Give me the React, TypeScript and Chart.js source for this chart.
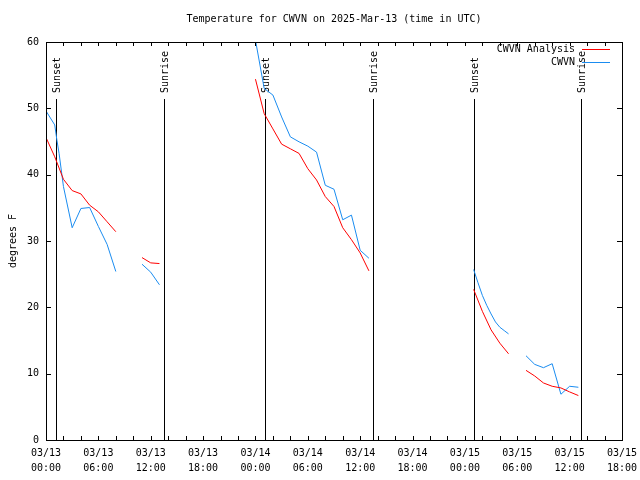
import React, { useEffect, useRef } from "react";
import { Chart, registerables } from "chart.js";

Chart.register(...registerables);

const TITLE = "Temperature for CWVN on 2025-Mar-13 (time in UTC)";
const Y_LABEL = "degrees F";
const FONT = "'DejaVu Sans Mono', 'Liberation Mono', monospace";

// hours since 03/13 00:00 UTC
const tickHours = [0, 6, 12, 18, 24, 30, 36, 42, 48, 54, 60, 66];
const tickDates = ["03/13", "03/13", "03/13", "03/13", "03/14", "03/14", "03/14", "03/14", "03/15", "03/15", "03/15", "03/15"];
const tickTimes = ["00:00", "06:00", "12:00", "18:00", "00:00", "06:00", "12:00", "18:00", "00:00", "06:00", "12:00", "18:00"];

const sunEventHours = [1.18, 13.56, 25.13, 37.5, 49.08, 61.35];
const sunEventNames = ["Sunset", "Sunrise", "Sunset", "Sunrise", "Sunset", "Sunrise"];

const seriesNames = ["CWVN Analysis", "CWVN"];
const seriesColors = ["#ff0000", "#1a8cf0"];

const analysisHours = [
  0, 1, 2, 3, 4, 5, 6, 7, 8, 9.5,
  11, 12, 13, 18.5,
  24, 25, 26, 27, 28, 29, 30, 31, 32, 33, 34, 35, 36, 37, 43,
  49, 50, 51, 52, 53, 54,
  55, 56, 57, 58, 59, 60, 61,
];
const analysisTemps = [
  45.6, 42.7, 39.3, 37.6, 37.1, 35.4, 34.4, 32.9, 31.4, null,
  27.5, 26.7, 26.6, null,
  54.4, 49.2, 46.9, 44.6, 43.9, 43.2, 40.9, 39.2, 36.7, 35.2, 32.0, 30.2, 28.2, 25.5, null,
  22.7, 19.4, 16.6, 14.6, 13.0, null,
  10.5, 9.65, 8.6, 8.1, 7.85, 7.25, 6.7,
];

const stationHours = [
  0, 1, 1.25, 1.5, 2, 3, 4, 5, 6, 7, 8, 9.5,
  11, 12, 13, 18.5,
  24, 25, 26, 27, 28, 29, 30, 31, 32, 33, 34, 35, 36, 37, 43,
  49, 49.5, 50, 50.5, 51, 51.5, 52, 52.5, 53, 54,
  55, 56, 57, 58, 59, 60, 61,
];
const stationTemps = [
  49.6, 47.5, 45.2, 43.2, 38.2, 32.0, 34.9, 35.05, 32.2, 29.5, 25.4, null,
  26.5, 25.3, 23.4, null,
  60.3, 53.0, 52.0, 48.7, 45.7, 44.95, 44.3, 43.4, 38.4, 37.8, 33.2, 33.9, 28.6, 27.4, null,
  25.7, 23.7, 21.8, 20.3, 19.0, 17.8, 17.0, 16.5, 16.0, null,
  12.7, 11.4, 10.9, 11.5, 6.9, 8.1, 7.95,
];

const toPoints = (xs: number[], ys: (number | null)[]) => xs.map((x, i) => ({ x, y: ys[i] }));

const overlayPlugin = {
  id: "overlay",
  beforeDatasetsDraw(chart: any) {
    const { ctx, chartArea, scales } = chart;
    const xs = scales.x;
    ctx.save();
    ctx.fillStyle = "#000";
    ctx.font = `10px ${FONT}`;
    sunEventHours.forEach((h, i) => {
      const px = Math.round(xs.getPixelForValue(h));
      ctx.fillRect(px, 99, 1, chartArea.bottom - 99);
      ctx.save();
      ctx.translate(px + 1.5, 93);
      ctx.rotate(-Math.PI / 2);
      ctx.textAlign = "left";
      ctx.textBaseline = "middle";
      ctx.fillText(sunEventNames[i], 0, 0);
      ctx.restore();
    });
    ctx.restore();
  },
  afterDraw(chart: any) {
    const { ctx, chartArea, scales } = chart;
    const { left, right, top, bottom } = chartArea;
    ctx.save();
    ctx.strokeStyle = "#000";
    ctx.lineWidth = 1;
    ctx.strokeRect(left + 0.5, top + 0.5, right - left, bottom - top);
    const tl = 4;
    ctx.beginPath();
    scales.x.ticks.forEach((t: any) => {
      const px = Math.round(scales.x.getPixelForValue(t.value)) + 0.5;
      ctx.moveTo(px, bottom);
      ctx.lineTo(px, bottom - tl);
      ctx.moveTo(px, top);
      ctx.lineTo(px, top + tl);
    });
    scales.y.ticks.forEach((t: any) => {
      const py = Math.round(scales.y.getPixelForValue(t.value)) + 0.5;
      ctx.moveTo(left, py);
      ctx.lineTo(left + tl + 1, py);
      ctx.moveTo(right, py);
      ctx.lineTo(right - tl - 1, py);
    });
    ctx.stroke();

    ctx.fillStyle = "#000";
    ctx.font = `10px ${FONT}`;
    ctx.textAlign = "center";
    ctx.textBaseline = "middle";
    ctx.fillText(TITLE, (left + right) / 2, 19);

    ctx.save();
    ctx.translate(13, (top + bottom) / 2);
    ctx.rotate(-Math.PI / 2);
    ctx.fillText(Y_LABEL, 0, 0);
    ctx.restore();

    ctx.textAlign = "right";
    seriesNames.forEach((name, i) => {
      const y = 49 + i * 13;
      ctx.fillStyle = "#000";
      ctx.fillText(name, 575, y);
      ctx.fillStyle = seriesColors[i];
      ctx.fillRect(582, y, 28, 1);
    });
    ctx.restore();
  },
};

export default function App() {
  const canvasRef = useRef<HTMLCanvasElement | null>(null);

  useEffect(() => {
    if (!canvasRef.current) return;
    const tickFont = { family: FONT, size: 10, lineHeight: 1.5 };
    const chart = new Chart(canvasRef.current, {
      type: "line",
      data: {
        datasets: [
          {
            label: seriesNames[0],
            data: toPoints(analysisHours, analysisTemps),
            borderColor: seriesColors[0],
            borderWidth: 1,
            pointRadius: 0,
            tension: 0,
            spanGaps: false,
          },
          {
            label: seriesNames[1],
            data: toPoints(stationHours, stationTemps),
            borderColor: seriesColors[1],
            borderWidth: 1,
            pointRadius: 0,
            tension: 0,
            spanGaps: false,
          },
        ],
      },
      options: {
        responsive: false,
        animation: false,
        devicePixelRatio: 1,
        layout: { padding: { left: 0, right: 18, top: 42, bottom: 0 } },
        plugins: {
          legend: { display: false },
          title: { display: false },
          tooltip: { enabled: false },
        },
        scales: {
          x: {
            type: "linear",
            min: 0,
            max: 66,
            afterFit: (s: any) => {
              s.height = 40;
              s.paddingLeft = 0;
              s.paddingRight = 0;
            },
            grid: { display: false, drawTicks: false, tickLength: 0 },
            border: { display: false },
            ticks: {
              stepSize: 2,
              autoSkip: false,
              maxRotation: 0,
              minRotation: 0,
              padding: 6,
              color: "#000",
              font: tickFont,
              callback: (v: any) => {
                const i = tickHours.indexOf(Number(v));
                return i >= 0 ? [tickDates[i], tickTimes[i]] : "";
              },
            },
          },
          y: {
            min: 0,
            max: 60,
            afterFit: (s: any) => {
              s.width = 46;
              s.paddingTop = 0;
              s.paddingBottom = 0;
            },
            grid: { display: false, drawTicks: false, tickLength: 0 },
            border: { display: false },
            ticks: {
              stepSize: 10,
              padding: 7,
              color: "#000",
              font: tickFont,
            },
          },
        },
      },
      plugins: [overlayPlugin],
    } as any);
    return () => chart.destroy();
  }, []);

  return (
    <div style={{ position: "absolute", left: 0, top: 0, width: 640, height: 480, background: "#fff" }}>
      <canvas ref={canvasRef} width={640} height={480} style={{ display: "block" }} />
    </div>
  );
}
